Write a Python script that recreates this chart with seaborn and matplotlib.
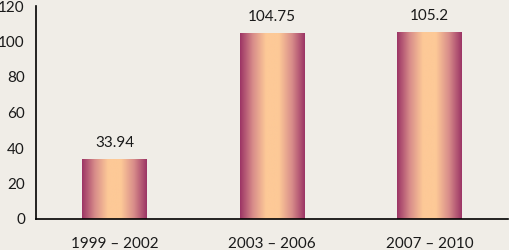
import matplotlib
matplotlib.use("Agg")
import matplotlib.pyplot as plt
import seaborn as sns
import numpy as np
import pandas as pd
from matplotlib.colors import LinearSegmentedColormap

categories = ["1999 – 2002", "2003 – 2006", "2007 – 2010"]
values = [33.94, 104.75, 105.2]
labels = ["33.94", "104.75", "105.2"]
yticks = [0, 20, 40, 60, 80, 100, 120]

sns.set_style("white")
plt.rcParams['font.family'] = ['Lato', 'DejaVu Sans']

bg = "#f0ede7"
fs = 11
fig = plt.figure(figsize=(5.09, 2.5), dpi=100, facecolor=bg)
ax = fig.add_axes([36/509, 1-219/250, 1-36/509 - 0.001, (219-6)/250])
ax.set_facecolor(bg)

df = pd.DataFrame({"cat": categories, "val": values})
sns.barplot(data=df, x="cat", y="val", ax=ax, width=0.41, color="#fdc997", linewidth=0, saturation=1)

cmap = LinearSegmentedColormap.from_list("g", ["#9c3465", "#d88d8a", "#fdc997", "#fdc997", "#d88d8a", "#9c3465"])
grad = np.linspace(0, 1, 256).reshape(1, -1)
for p in ax.patches:
    x0, y0 = p.get_x(), p.get_y()
    w, h = p.get_width(), p.get_height()
    im = ax.imshow(grad, cmap=cmap, aspect="auto", extent=[x0, x0+w, y0, y0+h], zorder=2)
    im.set_clip_path(p)
    p.set_facecolor("none")

for i, (v, t) in enumerate(zip(values, labels)):
    ax.text(i, v + 5, t, ha="center", va="bottom", fontsize=fs, color="#1a1a1a")

ax.set_xlim(-0.5, 2.5)
ax.set_ylim(0, 120)
ax.set_yticks(yticks)
ax.set_yticklabels([str(t) for t in yticks], fontsize=fs, color="#1a1a1a")
ax.set_xticks(range(len(categories)))
ax.set_xticklabels(categories, fontsize=fs, color="#1a1a1a")
ax.set_xticks([0.5, 1.5, 2.5], minor=True)
ax.tick_params(axis="x", which="major", length=0, pad=13)
ax.tick_params(axis="x", which="minor", length=5, width=1, color="black", direction="out")
ax.tick_params(axis="y", length=5, width=1, color="black", direction="out", pad=3)
ax.set_xlabel("")
ax.set_ylabel("")
for s in ["top", "right"]:
    ax.spines[s].set_visible(False)
for s in ["left", "bottom"]:
    ax.spines[s].set_color("black")
    ax.spines[s].set_linewidth(1.2)

fig.savefig("out.png", dpi=100, facecolor=bg)
